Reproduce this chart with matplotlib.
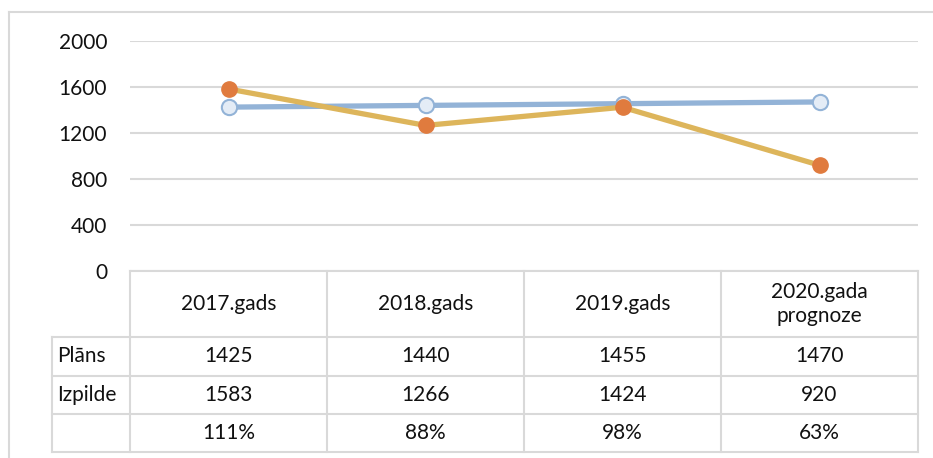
import matplotlib
matplotlib.use('Agg')
import matplotlib.pyplot as plt
from matplotlib.lines import Line2D

plt.rcParams['font.family'] = ['Lato', 'DejaVu Sans']

# dati
categories = ['2017.gads', '2018.gads', '2019.gads', '2020.gada\nprognoze']
plans = [1425, 1440, 1455, 1470]
izpilde = [1583, 1266, 1424, 920]
percent = ['111%', '88%', '98%', '63%']
row_labels = ['Plāns', 'Izpilde', '']
y_ticks = [0, 400, 800, 1200, 1600, 2000]

W, H = 933, 458
grid_c = '#D9D9D9'
txt_c = '#111111'
blue = '#93B3D7'
gold = '#DDB55B'
orange = '#E07B3E'
fs = 15


def rect(x0, y0, x1, y1):
    return [x0 / W, 1 - y1 / H, (x1 - x0) / W, (y1 - y0) / H]


fig = plt.figure(figsize=(W / 100, H / 100), dpi=100)

# ārējais rāmis
fig.add_artist(Line2D([9 / W, 9 / W], [0, 1 - 12 / H], transform=fig.transFigure, color=grid_c, lw=1.5))
fig.add_artist(Line2D([9 / W, 1], [1 - 12 / H, 1 - 12 / H], transform=fig.transFigure, color=grid_c, lw=1.5))

# līniju diagramma
ax = fig.add_axes(rect(130, 41, 918, 271))
xs = range(len(categories))
ax.plot(xs, plans, color=blue, lw=3.8, marker='o', ms=11, mfc='#E4ECF6', mec=blue, mew=1.5,
        solid_capstyle='round', zorder=3, clip_on=False)
ax.plot(xs, izpilde, color=gold, lw=3.8, marker='o', ms=11, mfc=orange, mec=orange, mew=1,
        solid_capstyle='round', zorder=4, clip_on=False)
ax.set_xlim(-0.5, len(categories) - 0.5)
ax.set_ylim(0, 2000)
ax.set_yticks(y_ticks)
ax.set_xticks([])
ax.tick_params(axis='y', length=0, pad=16.5, labelsize=fs, labelcolor=txt_c)
ax.yaxis.grid(True, color=grid_c, lw=1.5)
ax.set_axisbelow(True)
for s in ax.spines.values():
    s.set_visible(False)

# datu tabula zem diagrammas
lab_w = 78 / 197
row_h = [66, 39, 38, 38]
edges = [0]
for h in row_h:
    edges.append(edges[-1] + h)
tax = fig.add_axes(rect(52, 271, 918, 271 + edges[-1]))
tax.set_xlim(-0.5 - lab_w, len(categories) - 0.5)
tax.set_ylim(edges[-1], 0)
tax.axis('off')

left = -0.5 - lab_w
right = len(categories) - 0.5
kw = dict(color=grid_c, lw=1.5, clip_on=False)
tax.plot([-0.5, right], [0, 0], **kw)
for e in edges[1:]:
    tax.plot([left, right], [e, e], **kw)
tax.plot([left, left], [edges[1], edges[-1]], **kw)
for i in range(len(categories) + 1):
    tax.plot([i - 0.5, i - 0.5], [0, edges[-1]], **kw)

for i, c in enumerate(categories):
    tax.text(i, (edges[0] + edges[1]) / 2, c, ha='center', va='center', fontsize=fs,
             color=txt_c, linespacing=1.2)

rows = [[str(v) for v in plans], [str(v) for v in izpilde], percent]
for r, (lab, vals) in enumerate(zip(row_labels, rows)):
    yc = (edges[r + 1] + edges[r + 2]) / 2
    tax.text(left + 0.025, yc, lab, ha='left', va='center', fontsize=fs, color=txt_c)
    for i, v in enumerate(vals):
        tax.text(i, yc, v, ha='center', va='center', fontsize=fs, color=txt_c)

fig.savefig('out.png', dpi=100)
